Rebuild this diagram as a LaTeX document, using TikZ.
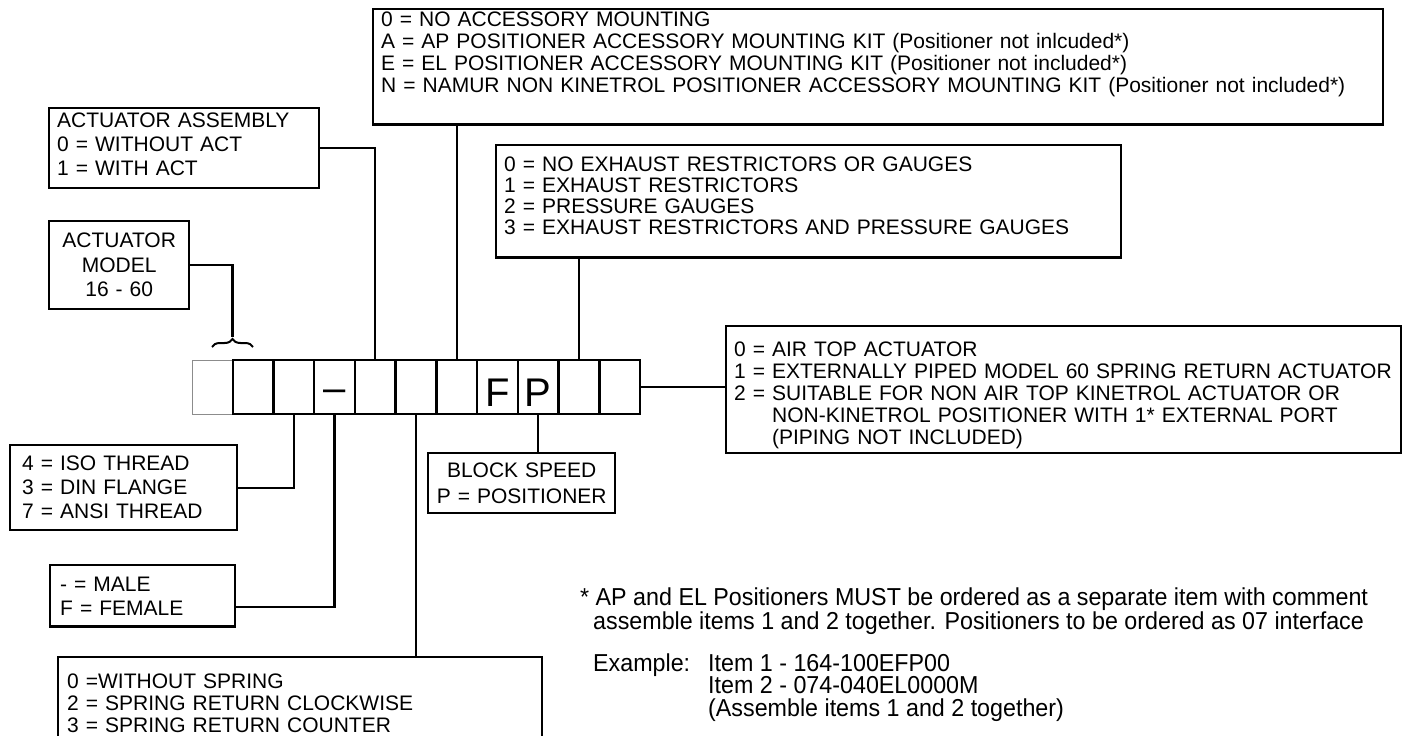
\documentclass[tikz,border=0pt]{standalone}
\usepackage{fontspec}
\setmainfont{Liberation Sans}
\newfontfamily\notefont[FakeStretch=0.95]{Liberation Sans}
\usetikzlibrary{positioning,calc,decorations.pathreplacing}

\tikzset{
  optbox/.style={draw, line width=2.4pt, anchor=north west, align=left,
    inner xsep=8pt, font=\fontsize{21}{22}\selectfont},
  digit/.style={draw, line width=2.4pt, minimum width=40.73pt, minimum height=54pt,
    inner sep=0pt, font=\fontsize{40}{40}\selectfont, text height=38pt, text depth=0pt},
  wire/.style={line width=2.2pt},
  note/.style={anchor=north west, align=left, inner sep=0pt,
    font=\notefont\fontsize{24.5}{22.5}\selectfont}
}

\begin{document}
\begin{tikzpicture}[x=1pt, y=-1pt]
  \clip (0,0) rectangle (1416,736);
  \fill[white] (0,0) rectangle (1416,736);

  % code cells
  \node[digit, draw=black!45, line width=1pt] (c0) at (212.4,387) {};
  \foreach \i/\d in {1/{},2/{},3/{\raisebox{5pt}{\textendash}},4/{},5/{},6/{},7/{F},8/{P},9/{},10/{}}
    \node[digit] (c\i) at ({212.4+40.73*\i},387) {\d};

  % option boxes above the row
  \node[optbox, text width=994pt, inner ysep=3pt] (mount) at (372,8)
   {0 = NO ACCESSORY MOUNTING\\
    A = AP POSITIONER ACCESSORY MOUNTING KIT (Positioner not inlcuded*)\\
    E = EL POSITIONER ACCESSORY MOUNTING KIT (Positioner not included*)\\
    N = NAMUR NON KINETROL POSITIONER ACCESSORY MOUNTING KIT (Positioner not included*)\\[6.7pt]
    \mbox{}};
  \node[optbox, text width=254pt, inner ysep=5pt, font=\fontsize{21}{24}\selectfont] (assy) at (48,107)
   {ACTUATOR ASSEMBLY\\
    0 = WITHOUT ACT\\
    1 = WITH ACT\strut};
  \node[optbox, text width=609pt, inner ysep=11.8pt, font=\fontsize{21}{21}\selectfont] (exhaust) at (495,144)
   {0 = NO EXHAUST RESTRICTORS OR GAUGES\\
    1 = EXHAUST RESTRICTORS\\
    2 = PRESSURE GAUGES\\
    3 = EXHAUST RESTRICTORS AND PRESSURE GAUGES\\[-10pt]
    \mbox{}};
  \node[optbox, text width=124pt, inner ysep=12pt, align=center, font=\fontsize{21}{24.5}\selectfont] (model) at (48,220)
   {ACTUATOR\\
    MODEL\\
    16 - 60};
  \node[optbox, text width=659pt, inner ysep=4pt] (airtop) at (725,325)
   {\rule{0pt}{26.5pt}0 = AIR TOP ACTUATOR\\
    1 = EXTERNALLY PIPED MODEL 60 SPRING RETURN ACTUATOR\\
    2 = SUITABLE FOR NON AIR TOP KINETROL ACTUATOR OR\\
    \phantom{2 = }NON-KINETROL POSITIONER WITH 1* EXTERNAL PORT\\
    \phantom{2 = }(PIPING NOT INCLUDED)};

  % option boxes below the row
  \node[optbox, text width=203pt, inner xsep=12pt, inner ysep=11pt, font=\fontsize{21}{24}\selectfont] (thread) at (9,444)
   {4 = ISO THREAD\\
    3 = DIN FLANGE\\
    7 = ANSI THREAD};
  \node[optbox, text width=171pt, inner ysep=9.5pt, align=center, font=\fontsize{21}{26}\selectfont] (speed) at (427,452)
   {BLOCK SPEED\\
    P = POSITIONER};
  \node[optbox, text width=165pt, inner xsep=10pt, inner ysep=11.5pt, font=\fontsize{21}{24}\selectfont] (gender) at (49,564)
   {- = MALE\\
    F = FEMALE};
  \node[optbox, text width=466pt, inner xsep=9pt, inner ysep=17pt] (spring) at (57,656)
   {0 =WITHOUT SPRING\\
    2 = SPRING RETURN CLOCKWISE\\
    3 = SPRING RETURN COUNTER};

  % connectors
  \coordinate (bracetip) at (232.4,337);
  \draw[decorate, decoration={brace, amplitude=8pt}, line width=2pt] (212,347) -- (253,347);
  \draw[wire] (model.east) -| (bracetip);
  \draw[wire] (assy.east) -| (c4.north);
  \draw[wire] (c6.north |- mount.south) -- (c6.north);
  \draw[wire] (c9.north |- exhaust.south) -- (c9.north);
  \draw[wire] (c10.east) -- (c10.east -| airtop.west);
  \draw[wire] (c2.south) |- (thread.east);
  \draw[wire] (c3.south) |- ([yshift=-11pt]gender.east);
  \draw[wire] (c5.south) -- (c5.south |- spring.north);
  \draw[wire] (c8.south) -- (c8.south |- speed.north);

  % ordering note
  \node[note] (fnote) at (580,588)
   {* AP and EL Positioners MUST be ordered as a separate item with comment\\
    \hspace*{13pt}assemble items 1 and 2 together. Positioners to be ordered as 07 interface};
  \node[note] (exlabel) at (593,654) {Example:};
  \node[note] (exitems) at (708,654)
   {Item 1 - 164-100EFP00\\
    Item 2 - 074-040EL0000M\\
    (Assemble items 1 and 2 together)};
\end{tikzpicture}
\end{document}
